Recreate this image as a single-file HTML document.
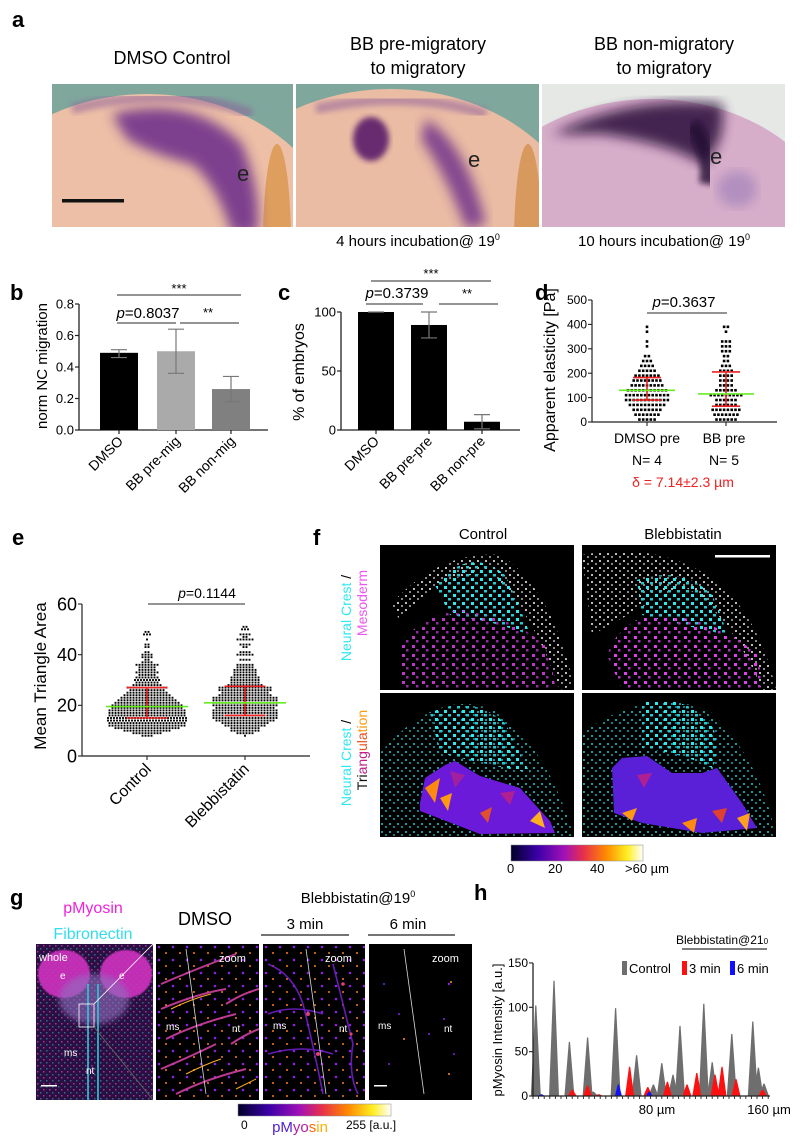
<!DOCTYPE html>
<html><head><meta charset="utf-8">
<style>
html,body{margin:0;padding:0;background:#fff;}
svg{display:block;font-family:"Liberation Sans",Arial,sans-serif;}
</style></head>
<body>
<svg id="fig" width="800" height="1147" viewBox="0 0 800 1147" xmlns="http://www.w3.org/2000/svg">
<defs>
<filter id="blur6"><feGaussianBlur stdDeviation="6"/></filter>
<filter id="blur3"><feGaussianBlur stdDeviation="3"/></filter>
<filter id="blur1"><feGaussianBlur stdDeviation="0.8"/></filter>
<linearGradient id="fire" x1="0" x2="1" y1="0" y2="0">
<stop offset="0" stop-color="#000028"/><stop offset="0.2" stop-color="#3a00a8"/><stop offset="0.4" stop-color="#a010b8"/><stop offset="0.55" stop-color="#e8304a"/><stop offset="0.72" stop-color="#ff8a00"/><stop offset="0.88" stop-color="#ffee20"/><stop offset="1" stop-color="#ffffff"/>
</linearGradient>
<pattern id="pcyan" width="9" height="8" patternUnits="userSpaceOnUse"><rect x="1" y="1" width="3" height="3" fill="#2fe8ee"/><rect x="5" y="5" width="3" height="2.5" fill="#25c8d0"/></pattern>
<pattern id="pcyanDim" width="8" height="8" patternUnits="userSpaceOnUse"><rect x="1" y="2" width="2" height="2" fill="#1a9aa0"/><rect x="5" y="5" width="2" height="2" fill="#137d82"/></pattern>
<pattern id="pmag" width="10" height="9" patternUnits="userSpaceOnUse"><rect x="2" y="1" width="3" height="3" fill="#e040e8"/><rect x="6" y="5" width="2.5" height="2.5" fill="#b030c0"/></pattern>
<pattern id="pgrey" width="8" height="7" patternUnits="userSpaceOnUse"><rect x="1" y="1" width="2" height="2" fill="#bbb"/><rect x="5" y="4" width="2" height="2" fill="#888"/></pattern>
<pattern id="pmyo" width="6" height="6" patternUnits="userSpaceOnUse"><rect x="1" y="1" width="1.5" height="1.5" fill="#e040c8" opacity="0.7"/><rect x="4" y="4" width="1.5" height="1.5" fill="#40a0d0" opacity="0.6"/></pattern>
<pattern id="pspk" width="14" height="13" patternUnits="userSpaceOnUse"><circle cx="3" cy="3" r="1.3" fill="#8a20e0"/><circle cx="10" cy="9" r="1" fill="#ff7a20"/></pattern>
</defs>

<!-- ===== Panel a ===== -->
<g>
<text x="12" y="27" font-size="22" font-weight="bold">a</text>
<text x="172" y="64" font-size="18" text-anchor="middle">DMSO Control</text>
<text x="418" y="50" font-size="18" text-anchor="middle">BB pre-migratory</text>
<text x="418" y="74" font-size="18" text-anchor="middle">to migratory</text>
<text x="664" y="50" font-size="18" text-anchor="middle">BB non-migratory</text>
<text x="664" y="74" font-size="18" text-anchor="middle">to migratory</text>

<svg x="52" y="84" width="241" height="143">
<rect width="241" height="143" fill="#7fa79c"/>
<ellipse cx="95" cy="170" rx="195" ry="160" fill="#ecbfa6"/>
<ellipse cx="225" cy="160" rx="14" ry="100" fill="#d89040" opacity="0.7"/>
<path d="M60 30 Q140 10 190 60 Q210 110 205 150 L180 150 Q165 100 140 80 Q100 70 75 55 Z" fill="#6a2c8a" opacity="0.85" filter="url(#blur6)"/>
<path d="M20 25 Q120 0 200 30" stroke="#8a5a9a" stroke-width="10" fill="none" opacity="0.5" filter="url(#blur3)"/>
<text x="185" y="97" font-size="22" fill="#222">e</text>
<rect x="10" y="115" width="62" height="3.5" fill="#111"/>
</svg>
<svg x="296" y="84" width="243" height="143">
<rect width="243" height="143" fill="#7fa79c"/>
<ellipse cx="95" cy="170" rx="200" ry="165" fill="#eabca4"/>
<ellipse cx="232" cy="160" rx="14" ry="100" fill="#d08a40" opacity="0.7"/>
<ellipse cx="75" cy="55" rx="18" ry="22" fill="#5a1a6a" opacity="0.9" filter="url(#blur3)"/>
<path d="M130 35 Q170 60 190 140 L170 145 Q150 90 125 55 Z" fill="#6a2c8a" opacity="0.8" filter="url(#blur6)"/>
<path d="M20 25 Q110 5 190 30" stroke="#8a5a9a" stroke-width="10" fill="none" opacity="0.5" filter="url(#blur3)"/>
<text x="172" y="83" font-size="22" fill="#222">e</text>
</svg>
<svg x="542" y="84" width="243" height="143">
<rect width="243" height="143" fill="#e6e8e6"/>
<ellipse cx="110" cy="165" rx="190" ry="150" fill="#d7aeca"/>
<path d="M10 50 Q90 10 180 20 Q185 60 160 80 Q130 60 60 50 Z" fill="#2a0a3a" opacity="0.85" filter="url(#blur6)"/>
<path d="M150 40 Q170 70 165 100" stroke="#200830" stroke-width="16" fill="none" opacity="0.8" filter="url(#blur3)"/>
<ellipse cx="195" cy="105" rx="20" ry="18" fill="#9a7ab8" opacity="0.6" filter="url(#blur6)"/>
<text x="168" y="80" font-size="22" fill="#222">e</text>
</svg>
<text x="418" y="246" font-size="15" text-anchor="middle">4 hours incubation@ 19<tspan font-size="9" dy="-6">0</tspan></text>
<text x="664" y="246" font-size="15" text-anchor="middle">10 hours incubation@ 19<tspan font-size="9" dy="-6">0</tspan></text>
</g>

<!-- static text for charts -->
<text x="10" y="300" font-size="22" font-weight="bold">b</text>
<text x="278" y="300" font-size="22" font-weight="bold">c</text>
<text x="535" y="300" font-size="22" font-weight="bold">d</text>
<text x="12" y="545" font-size="22" font-weight="bold">e</text>
<text x="313" y="545" font-size="22" font-weight="bold">f</text>
<text x="10" y="905" font-size="22" font-weight="bold">g</text>
<text x="474" y="900" font-size="22" font-weight="bold">h</text>

<!-- ===== Panel f ===== -->
<g>
<text x="483" y="539" font-size="15" text-anchor="middle">Control</text>
<text x="683" y="539" font-size="15" text-anchor="middle">Blebbistatin</text>
<text transform="translate(351,618) rotate(-90)" font-size="14" text-anchor="middle" fill="#2fe8ee">Neural Crest <tspan fill="#000">/</tspan></text>
<text transform="translate(367,603) rotate(-90)" font-size="14" text-anchor="middle" fill="#ee55ee">Mesoderm</text>
<text transform="translate(351,763) rotate(-90)" font-size="14" text-anchor="middle" fill="#2fe8ee">Neural Crest <tspan fill="#000">/</tspan></text>
<text transform="translate(367,750) rotate(-90)" font-size="14" text-anchor="middle"><tspan fill="#111">Tri</tspan><tspan fill="#c0208a">ang</tspan><tspan fill="#e85020">ula</tspan><tspan fill="#ff9a10">tion</tspan></text>

<svg x="380" y="545" width="194" height="145">
<rect width="194" height="145" fill="#000"/>
<path d="M10 60 Q60 5 120 10 Q170 40 194 140 L180 145 Q150 60 110 30 Q60 25 20 75 Z" fill="url(#pgrey)"/>
<path d="M55 40 Q90 0 125 30 Q140 60 150 90 Q110 75 70 70 Z" fill="url(#pcyan)"/>
<path d="M20 100 Q40 70 80 65 Q130 70 165 100 Q175 130 175 145 L20 145 Z" fill="url(#pmag)" opacity="0.85"/>
</svg>
<svg x="582" y="545" width="194" height="145">
<rect width="194" height="145" fill="#000"/>
<path d="M0 10 Q80 -5 140 40 Q180 80 194 145 L180 145 Q150 70 100 40 L10 90 Z" fill="url(#pgrey)"/>
<path d="M55 35 Q100 20 130 50 Q140 70 145 90 Q100 80 60 70 Z" fill="url(#pcyan)"/>
<path d="M25 110 Q40 70 80 70 Q140 75 175 110 Q180 135 185 145 L40 145 Z" fill="url(#pmag)"/>
<rect x="133" y="10" width="55" height="2.5" fill="#fff"/>
</svg>
<svg x="380" y="693" width="194" height="144">
<rect width="194" height="144" fill="#000"/>
<path d="M0 60 Q60 -10 120 20 Q170 60 194 144 L0 144 Z" fill="url(#pcyanDim)"/>
<path d="M50 20 Q90 0 125 30 Q140 60 150 80 Q100 70 60 60 Z" fill="url(#pcyan)"/>
<polygon points="40,110 45,85 65,72 75,68 100,83 140,95 170,128 175,140 100,141 40,118" fill="#6a1ad8"/>
<polygon points="45,95 60,85 55,110" fill="#ff8a10"/><polygon points="60,105 72,100 68,118" fill="#ff9a10"/><polygon points="100,120 112,114 108,130" fill="#e05030"/><polygon points="150,128 160,118 165,135" fill="#ffb020"/><polygon points="70,78 85,82 75,95" fill="#a020a0"/><polygon points="120,100 135,98 130,112" fill="#b02090"/>
</svg>
<svg x="582" y="693" width="194" height="144">
<rect width="194" height="144" fill="#000"/>
<path d="M0 40 Q70 -10 130 20 Q180 70 194 144 L0 144 Z" fill="url(#pcyanDim)"/>
<path d="M60 10 Q100 0 130 30 Q140 60 130 75 Q100 60 60 55 Z" fill="url(#pcyan)"/>
<polygon points="30,75 40,65 65,63 90,80 120,80 135,75 160,110 175,135 120,140 60,130 32,120" fill="#5a20d8"/>
<polygon points="40,120 55,115 50,128" fill="#ff9a10"/><polygon points="100,130 115,125 112,140" fill="#ff8a10"/><polygon points="155,125 168,120 165,138" fill="#ffa020"/><polygon points="55,82 70,80 62,95" fill="#b02090"/><polygon points="130,118 145,115 140,130" fill="#e04030"/>
</svg>
<rect x="511" y="845" width="132" height="16" fill="url(#fire)" stroke="#888" stroke-width="0.5"/>
<text x="507" y="873" font-size="13">0</text>
<text x="548" y="873" font-size="13">20</text>
<text x="590" y="873" font-size="13">40</text>
<text x="625" y="873" font-size="13">&gt;60 µm</text>
</g>

<!-- ===== Panel g ===== -->
<g>
<text x="93" y="913" font-size="16" text-anchor="middle" fill="#ee22dd">pMyosin</text>
<text x="93" y="939" font-size="16" text-anchor="middle" fill="#33ddee">Fibronectin</text>
<text x="205" y="925" font-size="18" text-anchor="middle">DMSO</text>
<text x="358" y="903" font-size="15" text-anchor="middle">Blebbistatin@19<tspan font-size="9" dy="-6">0</tspan></text>
<text x="305" y="929" font-size="15" text-anchor="middle">3 min</text>
<text x="408" y="929" font-size="15" text-anchor="middle">6 min</text>
<line x1="261" y1="935" x2="349" y2="935" stroke="#222" stroke-width="1.2"/>
<line x1="368" y1="935" x2="455" y2="935" stroke="#222" stroke-width="1.2"/>
<svg x="36" y="944" width="117" height="156">
<rect width="117" height="156" fill="#2a1040"/>
<rect width="117" height="156" fill="url(#pmyo)"/>
<ellipse cx="28" cy="30" rx="26" ry="24" fill="#d030c0" opacity="0.9" filter="url(#blur1)"/>
<ellipse cx="90" cy="30" rx="26" ry="24" fill="#d030c0" opacity="0.9" filter="url(#blur1)"/>
<ellipse cx="58" cy="55" rx="35" ry="25" fill="#9070c0" opacity="0.6" filter="url(#blur3)"/>
<path d="M52 40 L52 156 M62 40 L62 156" stroke="#30c8d8" stroke-width="1.6"/>
<rect x="43" y="60" width="15" height="23" fill="none" stroke="#fff" stroke-width="0.8"/>
<text x="3" y="17" font-size="11" fill="#fff">whole</text>
<text x="24" y="35" font-size="10" fill="#fff">e</text>
<text x="83" y="35" font-size="10" fill="#fff">e</text>
<text x="28" y="112" font-size="10" fill="#fff">ms</text>
<text x="50" y="130" font-size="10" fill="#fff">nt</text>
<rect x="5" y="141" width="16" height="1.5" fill="#fff"/>
</svg>
<line x1="94" y1="1004" x2="153" y2="944" stroke="#fff" stroke-width="0.8"/>
<line x1="94" y1="1027" x2="153" y2="1100" stroke="#666" stroke-width="0.8"/>
<svg x="156" y="944" width="103" height="156">
<rect width="103" height="156" fill="#000"/>
<rect width="103" height="156" fill="url(#pspk)"/>
<g stroke="#d040a0" stroke-width="2" fill="none" opacity="0.9">
<path d="M5 40 Q40 25 80 10"/><path d="M5 65 Q40 50 70 45"/><path d="M10 95 Q40 80 80 70"/><path d="M5 125 Q40 110 60 100"/><path d="M20 150 Q50 135 90 125"/><path d="M70 60 Q85 50 103 45"/><path d="M75 100 Q90 90 103 85"/>
</g>
<g stroke="#ffb020" stroke-width="1" fill="none"><path d="M15 65 Q35 55 55 50"/><path d="M30 130 Q50 120 65 115"/><path d="M80 145 Q90 140 100 135"/></g>
<line x1="30" y1="5" x2="50" y2="150" stroke="#ddd" stroke-width="0.8"/>
<text x="63" y="18" font-size="11" fill="#fff">zoom</text>
<text x="10" y="86" font-size="10" fill="#fff">ms</text>
<text x="76" y="88" font-size="10" fill="#fff">nt</text>
</svg>
<svg x="263" y="944" width="102" height="156">
<rect width="102" height="156" fill="#000"/>
<rect width="102" height="156" fill="url(#pspk)"/>
<g stroke="#7020c8" stroke-width="1.6" fill="none" opacity="0.9">
<path d="M5 20 Q30 30 40 60 Q50 100 60 150"/><path d="M70 20 Q80 60 90 100 Q85 130 95 150"/><path d="M5 70 Q30 60 60 70"/><path d="M5 110 Q40 100 70 110"/>
</g>
<g fill="#e04070"><circle cx="45" cy="70" r="2"/><circle cx="80" cy="40" r="1.8"/><circle cx="55" cy="110" r="2"/><circle cx="88" cy="90" r="1.6"/></g>
<line x1="43" y1="5" x2="63" y2="150" stroke="#ddd" stroke-width="0.8"/>
<text x="62" y="18" font-size="11" fill="#fff">zoom</text>
<text x="10" y="85" font-size="10" fill="#fff">ms</text>
<text x="76" y="88" font-size="10" fill="#fff">nt</text>
</svg>
<svg x="369" y="944" width="103" height="156">
<rect width="103" height="156" fill="#000"/>
<g fill="#8a20e0"><circle cx="15" cy="40" r="1"/><circle cx="30" cy="70" r="1"/><circle cx="80" cy="40" r="1.2"/><circle cx="85" cy="110" r="1"/><circle cx="20" cy="120" r="1"/><circle cx="60" cy="90" r="1"/><circle cx="75" cy="75" r="1"/></g>
<g fill="#ff8a30"><circle cx="82" cy="38" r="1"/><circle cx="35" cy="95" r="1"/><circle cx="80" cy="130" r="1"/></g>
<line x1="35" y1="5" x2="55" y2="150" stroke="#ddd" stroke-width="0.8"/>
<text x="63" y="18" font-size="11" fill="#fff">zoom</text>
<text x="9" y="85" font-size="10" fill="#fff">ms</text>
<text x="75" y="88" font-size="10" fill="#fff">nt</text>
<rect x="5" y="141" width="13" height="1.5" fill="#fff"/>
</svg>
<rect x="238" y="1104" width="153" height="12" fill="url(#fire)" stroke="#888" stroke-width="0.5"/>
<text x="241" y="1129" font-size="12">0</text>
<text x="300" y="1132" font-size="15" text-anchor="middle"><tspan fill="#5020d0">pM</tspan><tspan fill="#b020a0">yo</tspan><tspan fill="#ff6a10">s</tspan><tspan fill="#ffb000">in</tspan></text>
<text x="346" y="1129" font-size="12">255 [a.u.]</text>
</g>

<g id="charts"></g>
</svg>

<script>
// ---------- Panel b data ----------
const bCats = ["DMSO", "BB pre-mig", "BB non-mig"];
const bVals = [0.49, 0.50, 0.26];
const bErrLo = [0.46, 0.36, 0.18];
const bErrHi = [0.51, 0.64, 0.34];
const bTicks = [0.0, 0.2, 0.4, 0.6, 0.8];
// ---------- Panel c data ----------
const cCats = ["DMSO", "BB pre-pre", "BB non-pre"];
const cVals = [100, 89, 7];
const cErrLo = [100, 78, 1];
const cErrHi = [100, 100, 13];
const cTicks = [0, 50, 100];
// ---------- Panel d data (bin value in Pa, count of points) ----------
const dCats = ["DMSO pre", "BB pre"];
const dBinsDmso = [10,30,50,70,90,110,130,150,170,190,210,230,250,270,310,330,370,390];
const dCntDmso  = [5,7,8,10,12,12,11,9,8,7,5,4,3,2,1,1,1,1];
const dBinsBB   = [10,30,50,70,90,110,130,150,170,190,210,230,250,270,290,310,330,370,390];
const dCntBB    = [6,7,8,6,6,9,6,4,4,4,4,3,2,2,3,3,3,1,2];
const dMedian = [130, 115];
const dQ1 = [90, 65];
const dQ3 = [182, 205];
const dTicks = [0,100,200,300,400,500];
// ---------- Panel e data ----------
const eCats = ["Control", "Blebbistatin"];
const eBinsCtrl = [8,9,10,11,12,13,14,15,16,17,18,19,20,21,22,23,24,25,26,27,28,29,30,31,32,33,34,35,36,37,38,39,40,41,43,44,46,48,49];
const eCntCtrl  = [4,10,16,22,26,26,27,27,26,26,26,24,24,22,20,18,16,14,12,14,10,8,9,8,6,8,6,6,8,4,2,4,4,2,2,2,1,3,2];
const eBinsBleb = [8,9,10,11,12,13,14,15,16,17,18,19,20,21,22,23,24,25,26,27,28,29,30,31,32,33,34,35,36,38,40,41,43,44,46,47,48,50,51];
const eCntBleb  = [1,6,10,10,14,16,20,22,22,22,22,20,22,22,22,22,18,16,18,18,12,10,10,10,8,8,8,6,6,4,6,4,2,4,6,2,4,3,2];
const eMedian = [19.5, 21];
const eQ1 = [15, 16];
const eQ3 = [27, 27.5];
const eTicks = [0,20,40,60];
// ---------- Panel h data (peak position µm, height a.u.) ----------
const hCtrlPos = [2,15,26,39,43,59,74,86,92,100,105,122,128,142,157,161,165];
const hCtrlVal = [102,130,61,66,5,99,46,13,37,24,79,104,38,70,84,32,14];
const h3Pos = [28,39,47,69,82,96,110,117,130,135,145,164];
const h3Val = [7,12,2,33,10,16,13,26,24,33,19,7];
const h6Pos = [6,61,83];
const h6Val = [2,13,5];
const hTicks = [0,50,100,150];
const hXLabels = [80,160];

const NS = "http://www.w3.org/2000/svg";
const root = document.getElementById("charts");
function mk(tag, attrs, parent){
  const el = document.createElementNS(NS, tag);
  for (const k in attrs) el.setAttribute(k, attrs[k]);
  (parent||root).appendChild(el);
  return el;
}
function txt(str, attrs, parent){ const t = mk("text", attrs, parent); t.textContent = str; return t; }

// ===== generic bar chart =====
function barChart(name, x0, x1, y0, yScale, ticks, tickFmt, cats, vals, lo, hi, barX, barW, colors, labX){
  const g = mk("g", {});
  
  
  const yTop = yScale(ticks[ticks.length-1]);
  const ax = mk("path", {d:`M${x0} ${yTop} V${y0} H${x1}`, stroke:"#222", "stroke-width":1.3, fill:"none"}, g);
  
  
  ticks.forEach(t=>{
    const y = yScale(t);
    mk("line",{x1:x0-4,x2:x0,y1:y,y2:y,stroke:"#222","stroke-width":1.2},g);
    const tl = txt(tickFmt(t),{x:x0-5,y:y+4.5,"font-size":13,"text-anchor":"end"},g);
    
    
  });
  cats.forEach((c,i)=>{
    const yv = yScale(vals[i]);
    const r = mk("rect",{x:barX[i],y:yv,width:barW,height:y0-yv,fill:colors[i]},g);
    
    
    const cx = barX[i]+barW/2;
    const e = mk("path",{d:`M${cx-8} ${yScale(hi[i])} H${cx+8} M${cx} ${yScale(hi[i])} V${yScale(lo[i])} M${cx-8} ${yScale(lo[i])} H${cx+8}`,stroke:"#777","stroke-width":1.2,fill:"none"},g);
    
    
    mk("line",{x1:cx,x2:cx,y1:y0,y2:y0+4,stroke:"#222","stroke-width":1.2},g);
    const lx = labX[i];
    const l = txt(c,{x:lx,y:y0+12,"font-size":14,"text-anchor":"end",transform:`rotate(-45 ${lx} ${y0+12})`},g);
    
    
  });
  return g;
}

// Panel b
const yb = v => 430 - v/0.8*126;
const gb = barChart("chart-b", 79, 268, 430, yb, bTicks, t=>t.toFixed(1), bCats, bVals, bErrLo, bErrHi, [100,157,212], 38, ["#000","#aaaaaa","#808080"], [124,181,236]);
{
  const yl = txt("norm NC migration",{transform:"translate(47,366) rotate(-90)","font-size":15,"text-anchor":"middle"},gb);
  
  
  mk("line",{x1:117,x2:241,y1:295,y2:295,stroke:"#555","stroke-width":1.3},gb);
  txt("***",{x:179,y:293,"font-size":13,"text-anchor":"middle"},gb);
  mk("line",{x1:117,x2:176,y1:323,y2:323,stroke:"#555","stroke-width":1.3},gb);
  mk("line",{x1:180,x2:239,y1:323,y2:323,stroke:"#555","stroke-width":1.3},gb);
  const p = txt("",{x:148,y:318,"font-size":15,"text-anchor":"middle"},gb);
  p.innerHTML = '<tspan font-style="italic">p</tspan>=0.8037';
  txt("**",{x:208,y:317,"font-size":13,"text-anchor":"middle"},gb);
}
// Panel c
const yc = v => 430 - v*1.18;
const gc = barChart("chart-c", 341, 520, 430, yc, cTicks, t=>String(t), cCats, cVals, cErrLo, cErrHi, [358,411,464], 36, ["#000","#000","#000"], [380,433,486]);
{
  const yl = txt("% of embryos",{transform:"translate(304,372) rotate(-90)","font-size":16,"text-anchor":"middle"},gc);
  
  
  mk("line",{x1:371,x2:491,y1:281,y2:281,stroke:"#555","stroke-width":1.3},gc);
  txt("***",{x:431,y:278,"font-size":13,"text-anchor":"middle"},gc);
  mk("line",{x1:366,x2:423,y1:304,y2:304,stroke:"#555","stroke-width":1.3},gc);
  mk("line",{x1:439,x2:498,y1:304,y2:304,stroke:"#555","stroke-width":1.3},gc);
  const p = txt("",{x:397,y:298,"font-size":15,"text-anchor":"middle"},gc);
  p.innerHTML = '<tspan font-style="italic">p</tspan>=0.3739';
  txt("**",{x:467,y:298,"font-size":13,"text-anchor":"middle"},gc);
}

// ===== swarm chart =====
function swarm(name, x0, x1, y0, yScale, ticks, cats, centers, bins, counts, med, q1, q3, spacing, dot, medHalf, tickFs){
  const g = mk("g", {});
  
  
  const ax = mk("path",{d:`M${x0} ${yScale(ticks[ticks.length-1])} V${y0} H${x1}`,stroke:"#222","stroke-width":1.2,fill:"none"},g);
  
  
  ticks.forEach(t=>{
    const y = yScale(t);
    mk("line",{x1:x0-4,x2:x0,y1:y,y2:y,stroke:"#222","stroke-width":1.1},g);
    const tl = txt(String(t),{x:x0-5,y:y+tickFs*0.35,"font-size":tickFs,"text-anchor":"end"},g);
    
    
  });
  cats.forEach((c,ci)=>{
    const cx = centers[ci];
    mk("line",{x1:cx,x2:cx,y1:y0,y2:y0+4,stroke:"#222","stroke-width":1.1},g);
    bins[ci].forEach((v,bi)=>{
      const n = counts[ci][bi];
      for(let i=0;i<n;i++){
        const px = cx + (i-(n-1)/2)*spacing;
        const r = mk("rect",{x:px-dot/2,y:yScale(v)-dot/2,width:dot,height:dot,fill:"#000"},g);
        
        
      }
    });
    const qr = mk("path",{d:`M${cx-medHalf*0.5} ${yScale(q3[ci])} H${cx+medHalf*0.5} M${cx} ${yScale(q3[ci])} V${yScale(q1[ci])} M${cx-medHalf*0.5} ${yScale(q1[ci])} H${cx+medHalf*0.5}`,stroke:"#ee2222","stroke-width":1.6,fill:"none"},g);
    
    
    const ml = mk("line",{x1:cx-medHalf,x2:cx+medHalf,y1:yScale(med[ci]),y2:yScale(med[ci]),stroke:"#66ee22","stroke-width":1.6},g);
    
    
  });
  return g;
}
// Panel d
const yd = v => 422 - v*0.244;
const gd = swarm("chart-d", 592, 777, 422, yd, dTicks, dCats, [647,726], [dBinsDmso,dBinsBB], [dCntDmso,dCntBB], dMedian, dQ1, dQ3, 3.8, 2.6, 28, 12);
{
  const yl = txt("Apparent elasticity [Pa]",{transform:"translate(555,370) rotate(-90)","font-size":16,"text-anchor":"middle"},gd);
  
  
  mk("line",{x1:647,x2:727,y1:313,y2:313,stroke:"#555","stroke-width":1.3},gd);
  const p = txt("",{x:684,y:307,"font-size":15,"text-anchor":"middle"},gd);
  p.innerHTML = '<tspan font-style="italic">p</tspan>=0.3637';
  dCats.forEach((c,i)=>{
    const t = txt(c,{x:[647,724][i],y:443,"font-size":14,"text-anchor":"middle"},gd);
    
    
  });
  txt("N= 4",{x:647,y:465,"font-size":14,"text-anchor":"middle"},gd);
  txt("N= 5",{x:724,y:465,"font-size":14,"text-anchor":"middle"},gd);
  const dl = txt("δ =  7.14±2.3 µm",{x:683,y:487,"font-size":14,"text-anchor":"middle",fill:"#ee2222"},gd);
  
  
}
// Panel e
const ye = v => 756 - v*2.533;
const ge = swarm("chart-e", 82, 310, 756, ye, eTicks, eCats, [147,245], [eBinsCtrl,eBinsBleb], [eCntCtrl,eCntBleb], eMedian, eQ1, eQ3, 3.0, 1.9, 41, 18);
{
  const yl = txt("Mean Triangle Area",{transform:"translate(46,676) rotate(-90)","font-size":17,"text-anchor":"middle"},ge);
  
  
  mk("line",{x1:148,x2:245,y1:604,y2:604,stroke:"#555","stroke-width":1.3},ge);
  const p = txt("",{x:207,y:598,"font-size":14,"text-anchor":"middle"},ge);
  p.innerHTML = '<tspan font-style="italic">p</tspan>=0.1144';
  eCats.forEach((c,i)=>{
    const lx=[152,250][i], ly=770;
    const t = txt(c,{x:lx,y:ly,"font-size":16,"text-anchor":"end",transform:`rotate(-45 ${lx} ${ly})`},ge);
    
    
  });
}

// ===== Panel h =====
const xh = u => 533 + u*1.4;
const yh = v => 1096 - v*0.887;
{
  const g = mk("g",{});
  
  
  function peaks(pos, val, color, half, nm){
    pos.forEach((p,i)=>{
      const x = xh(p), y = yh(val[i]);
      const pg = mk("polygon",{points:`${x-half},${yh(0)} ${x-0.6},${y} ${x+0.6},${y} ${x+half},${yh(0)}`,fill:color},g);
      
      
    });
  }
  peaks(hCtrlPos, hCtrlVal, "#6e6e6e", 5, 'peak-control');
  peaks(h3Pos, h3Val, "#ff1010", 4.5, 'peak-3min');
  peaks(h6Pos, h6Val, "#1010ff", 3.5, 'peak-6min');
  const ax = mk("path",{d:`M533 ${yh(150)} V1096 H770`,stroke:"#222","stroke-width":1.3,fill:"none"},g);
  
  
  for(let u=0; u<=168; u+=4){ mk("line",{x1:xh(u),x2:xh(u),y1:1096,y2:1099,stroke:"#222","stroke-width":0.9},g); }
  hTicks.forEach(t=>{
    const y=yh(t);
    mk("line",{x1:529,x2:533,y1:y,y2:y,stroke:"#222","stroke-width":1.1},g);
    const tl = txt(String(t),{x:528,y:y+4,"font-size":12,"text-anchor":"end"},g);
    
    
  });
  hXLabels.forEach(u=>{
    const tl = txt(u+" µm",{x:xh(u)+12,y:1114,"font-size":13,"text-anchor":"middle"},g);
    
    
  });
  const yl = txt("pMyosin Intensity [a.u.]",{transform:"translate(502,1030) rotate(-90)","font-size":13,"text-anchor":"middle"},g);
  
  
  const tt = txt("",{x:722,y:944,"font-size":12,"text-anchor":"middle"},g);
  tt.innerHTML = 'Blebbistatin@21<tspan font-size="8">0</tspan>';
  mk("line",{x1:682,x2:767,y1:949,y2:949,stroke:"#333","stroke-width":1.2},g);
  const leg = [["Control","#6e6e6e",622],["3 min","#ff1010",682],["6 min","#1010ff",730]];
  leg.forEach(([lab,col,x])=>{
    const r = mk("rect",{x:x,y:961,width:5,height:14,fill:col},g);
    
    
    const t = txt(lab,{x:x+7,y:973,"font-size":13},g);
    
    
  });
}
</script>
</body></html>
